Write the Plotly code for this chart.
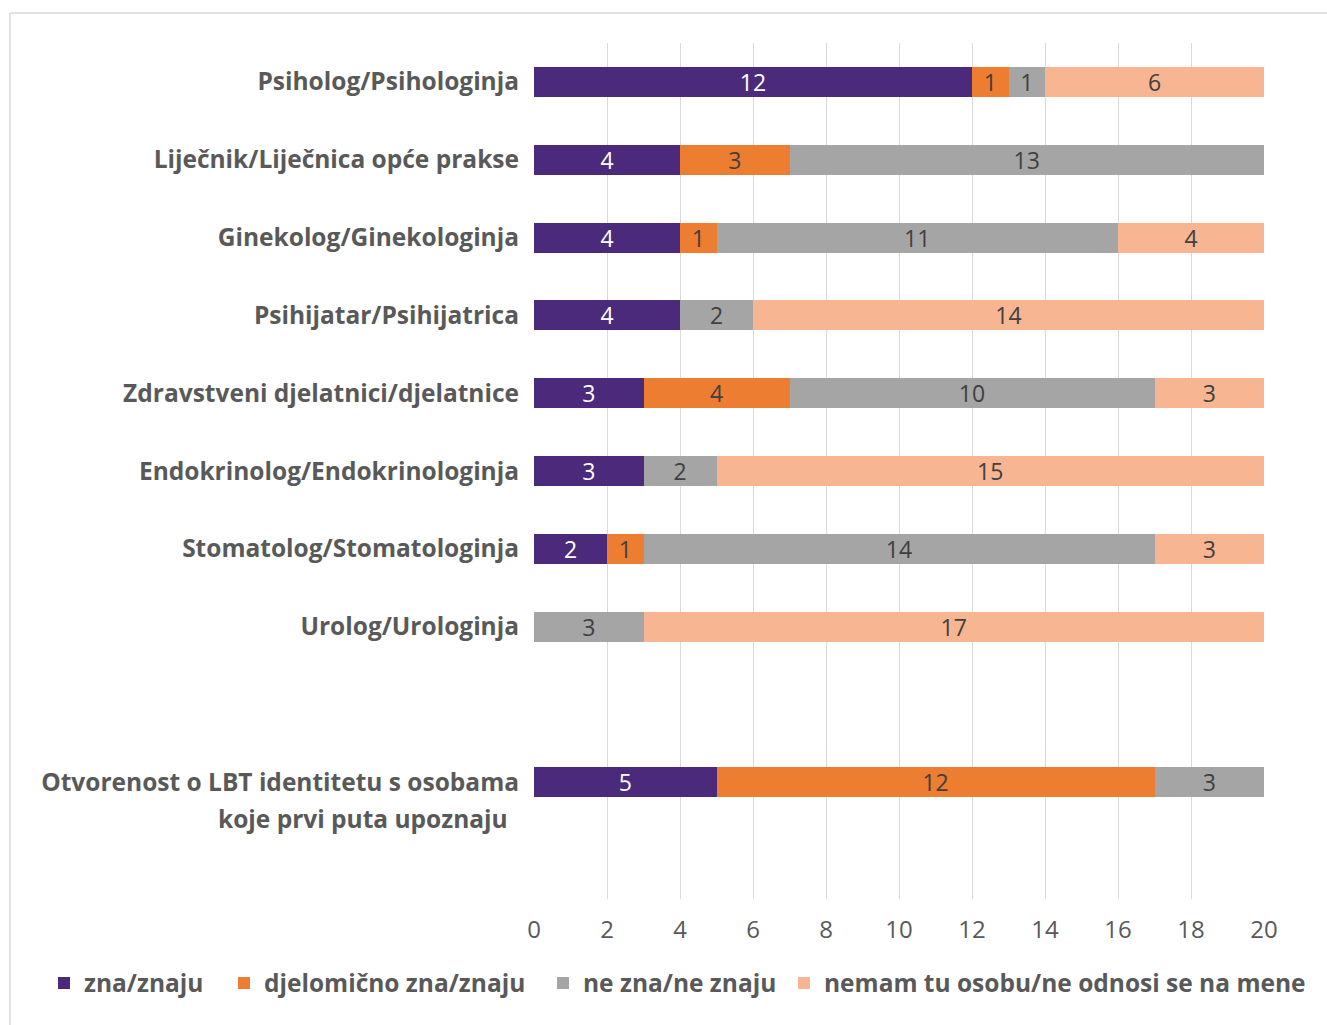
import plotly.graph_objects as go

# Categories (top to bottom); blank entries keep the spacing rows
categories = [
    "Psiholog/Psihologinja",
    "Liječnik/Liječnica opće prakse",
    "Ginekolog/Ginekologinja",
    "Psihijatar/Psihijatrica",
    "Zdravstveni djelatnici/djelatnice",
    "Endokrinolog/Endokrinologinja",
    "Stomatolog/Stomatologinja",
    "Urolog/Urologinja",
    " ",
    "Otvorenost o LBT identitetu s osobama",
    "  ",
]

# Series values (None = no segment)
zna = [12, 4, 4, 4, 3, 3, 2, None, None, 5, None]
djelomicno = [1, 3, 1, None, 4, None, 1, None, None, 12, None]
ne_zna = [1, 13, 11, 2, 10, 2, 14, 3, None, 3, None]
nemam = [6, None, 4, 14, 3, 15, 3, 17, None, None, None]

series_names = [
    "zna/znaju",
    "djelomično zna/znaju",
    "ne zna/ne znaju",
    "nemam tu osobu/ne odnosi se na mene",
]
series_values = [zna, djelomicno, ne_zna, nemam]
series_colors = ["#4B2A7B", "#ED7D31", "#A5A5A5", "#F8B591"]
label_colors = ["#FFFFFF", "#404040", "#404040", "#404040"]

x_ticks = [0, 2, 4, 6, 8, 10, 12, 14, 16, 18, 20]

FONT = "Open Sans"
TEXT_GRAY = "#595959"
W, H = 1327, 1025

# Plot area in pixels: 534..1264 horizontally, 43..899 vertically
L, R, T, B = 534, 1264, 43, 899


def px_x(p):
    return (p - L) / (R - L)


def px_y(p):
    return (B - p) / (B - T)


# One legend box per series so each entry sits at its own spot on the bottom row
legend_ids = ["legend", "legend2", "legend3", "legend4"]
legend_left_px = [44, 224, 543, 784]

fig = go.Figure()
for name, vals, col, tcol, lid in zip(series_names, series_values, series_colors,
                                      label_colors, legend_ids):
    fig.add_trace(go.Bar(
        name=name,
        y=categories,
        x=vals,
        orientation="h",
        legend=lid,
        marker=dict(color=col, line=dict(width=0)),
        text=[("" if v is None else str(v)) for v in vals],
        textposition="inside",
        insidetextanchor="middle",
        textangle=0,
        textfont=dict(family=FONT, size=23, color=tcol),
        hoverinfo="skip",
    ))

legend_style = dict(
    orientation="h",
    xanchor="left",
    y=px_y(983), yanchor="middle",
    font=dict(family=FONT, size=24.5, color=TEXT_GRAY, weight=700),
    itemwidth=30,
    bgcolor="rgba(0,0,0,0)",
)
legend_layout = {lid: dict(legend_style, x=px_x(lx))
                 for lid, lx in zip(legend_ids, legend_left_px)}

fig.update_layout(
    barmode="stack",
    bargap=0.615,
    width=W,
    height=H,
    margin=dict(l=L, r=W - R, t=T, b=H - B, pad=0, autoexpand=False),
    paper_bgcolor="white",
    plot_bgcolor="white",
    font=dict(family=FONT, color=TEXT_GRAY),
    uniformtext=dict(minsize=23, mode="show"),
    showlegend=True,
    **legend_layout,
    xaxis=dict(
        range=[0, 20],
        tickvals=x_ticks,
        ticktext=[str(t) for t in x_ticks],
        showgrid=True,
        gridcolor="#D9D9D9",
        gridwidth=1,
        zeroline=False,
        showline=False,
        ticks="",
        ticklabelstandoff=14,
        tickfont=dict(family=FONT, size=24, color=TEXT_GRAY),
        fixedrange=True,
    ),
    yaxis=dict(
        categoryorder="array",
        categoryarray=categories,
        autorange="reversed",
        showgrid=False,
        zeroline=False,
        showline=False,
        ticks="",
        ticklabelstandoff=14,
        tickfont=dict(family=FONT, size=24.5, color=TEXT_GRAY, weight=700),
        fixedrange=True,
    ),
    shapes=[
        dict(type="line", xref="paper", yref="paper",
             x0=px_x(10), x1=px_x(W), y0=px_y(13), y1=px_y(13),
             line=dict(color="#D9D9D9", width=1.5)),
        dict(type="line", xref="paper", yref="paper",
             x0=px_x(10), x1=px_x(10), y0=px_y(13), y1=px_y(H),
             line=dict(color="#D9D9D9", width=1.5)),
    ],
    annotations=[
        dict(text="koje prvi puta upoznaju", xref="paper", yref="y",
             x=0, y="Otvorenost o LBT identitetu s osobama",
             xanchor="right", yanchor="middle", xshift=-24, yshift=-36,
             showarrow=False,
             font=dict(family=FONT, size=24.5, color=TEXT_GRAY, weight=700)),
    ],
)

fig.write_html("out.html")
